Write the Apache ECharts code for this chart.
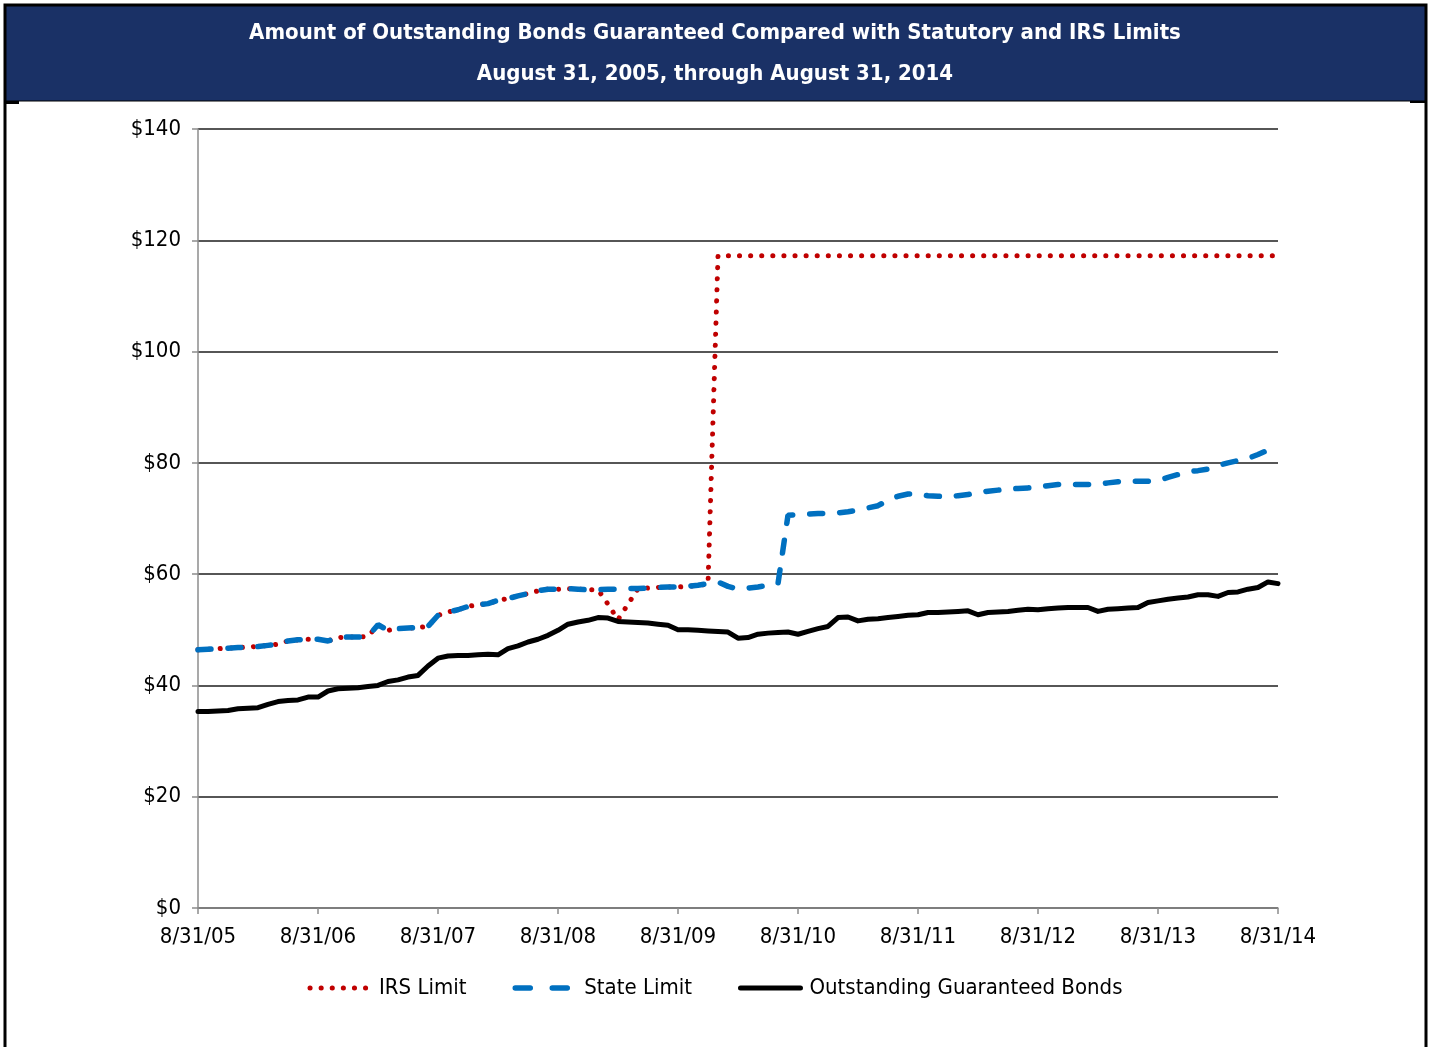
<!DOCTYPE html>
<html><head><meta charset="utf-8">
<script src="https://cdn.jsdelivr.net/npm/echarts@6/dist/echarts.min.js"></script>
<style>html,body{margin:0;padding:0;background:#fff}#c{width:1430px;height:1047px}</style>
</head><body><div id="c"></div>
<script>
const titleLines = ['Amount of Outstanding Bonds Guaranteed Compared with Statutory and IRS Limits', 'August 31, 2005, through August 31, 2014'];
const seriesNames = ['IRS Limit', 'State Limit', 'Outstanding Guaranteed Bonds'];
const tickLabels = ['8/31/05','8/31/06','8/31/07','8/31/08','8/31/09','8/31/10','8/31/11','8/31/12','8/31/13','8/31/14'];
const irsLimit = [46.4,46.5,46.6,46.7,46.8,46.9,47.0,47.2,47.4,48.0,
  48.2,48.3,48.3,48.0,48.6,48.7,48.7,48.8,50.9,49.9,
  50.2,50.3,50.4,50.6,52.6,53.2,53.6,54.2,54.5,54.7,
  55.3,55.6,56.1,56.5,57.0,57.3,57.3,57.4,57.3,57.2,
  57.2,54.6,51.8,54.6,57.4,57.5,57.6,57.7,57.7,57.8,
  58.0,58.2,117.2,117.2,117.2,117.2,117.2,117.2,117.2,117.2,
  117.2,117.2,117.2,117.2,117.2,117.2,117.2,117.2,117.2,117.2,
  117.2,117.2,117.2,117.2,117.2,117.2,117.2,117.2,117.2,117.2,
  117.2,117.2,117.2,117.2,117.2,117.2,117.2,117.2,117.2,117.2,
  117.2,117.2,117.2,117.2,117.2,117.2,117.2,117.2,117.2,117.2,
  117.2,117.2,117.2,117.2,117.2,117.2,117.2,117.2,117.2];
const stateLimit = [46.4,46.5,46.6,46.7,46.8,46.9,47.0,47.2,47.4,48.0,
  48.2,48.3,48.3,48.0,48.6,48.7,48.7,48.8,50.9,49.9,
  50.2,50.3,50.4,50.6,52.6,53.2,53.6,54.2,54.5,54.7,
  55.3,55.6,56.1,56.5,57.0,57.3,57.3,57.4,57.3,57.2,
  57.2,57.3,57.3,57.4,57.4,57.5,57.6,57.7,57.7,57.8,
  58.0,58.3,58.6,57.8,57.3,57.5,57.7,58.0,58.3,70.6,
  70.7,70.8,70.9,70.9,71.0,71.2,71.5,71.9,72.3,73.3,
  74.0,74.4,74.4,74.1,74.0,73.9,74.1,74.3,74.7,74.9,
  75.1,75.3,75.4,75.5,75.6,75.9,76.1,76.1,76.1,76.1,
  76.1,76.4,76.6,76.7,76.7,76.7,76.8,77.4,77.9,78.4,
  78.6,78.9,79.5,80.0,80.4,80.8,81.5,82.3,83.0];
const outstanding = [35.3,35.3,35.4,35.5,35.8,35.9,36.0,36.6,37.1,37.3,
  37.4,37.9,37.9,39.0,39.4,39.5,39.6,39.8,40.0,40.7,
  41.0,41.5,41.8,43.5,44.9,45.3,45.4,45.4,45.5,45.6,
  45.5,46.6,47.1,47.8,48.3,49.0,49.9,51.0,51.4,51.7,
  52.2,52.1,51.5,51.4,51.3,51.2,51.0,50.8,50.0,50.0,
  49.9,49.8,49.7,49.6,48.5,48.6,49.2,49.4,49.5,49.6,
  49.2,49.7,50.2,50.6,52.2,52.3,51.6,51.9,52.0,52.2,
  52.4,52.6,52.7,53.1,53.1,53.2,53.3,53.4,52.7,53.1,
  53.2,53.3,53.5,53.7,53.6,53.8,53.9,54.0,54.0,54.0,
  53.3,53.7,53.8,53.9,54.0,54.9,55.2,55.5,55.7,55.9,
  56.3,56.3,56.0,56.7,56.8,57.3,57.6,58.6,58.3];

// month-end category labels, 8/31/05 .. 8/31/14
const categories = [];
for (let k = 0; k < outstanding.length; k++) {
  const m = (7 + k) % 12, y = 2005 + Math.floor((7 + k) / 12);
  const d = new Date(y, m + 1, 0).getDate();
  categories.push((m + 1) + '/' + d + '/' + String(y % 100).padStart(2, '0'));
}

const FONT = "'DejaVu Sans Condensed', 'DejaVu Sans', sans-serif";
const irsStyle = {color: '#c00000', width: 5, type: [0.1, 11], cap: 'round'};
const stateStyle = {color: '#0070c0', width: 5.5, type: [13, 17], cap: 'round'};
const stateLegendStyle = {color: '#0070c0', width: 5.5, type: [15, 22], cap: 'round'};
const bondStyle = {color: '#000000', width: 5, join: 'round', cap: 'round'};

const chart = echarts.init(document.getElementById('c'), null, {renderer: 'canvas'});
chart.setOption({
  animation: false,
  backgroundColor: '#ffffff',
  title: {
    text: titleLines.join('\n'),
    left: 'center', top: 8,
    textStyle: {color: '#ffffff', fontFamily: FONT, fontWeight: 'bold', fontSize: 22, lineHeight: 41}
  },
  graphic: [
    {type: 'rect', z: 0, shape: {x: 5, y: 5, width: 1421, height: 96}, style: {fill: '#1a3166'}},
    {type: 'rect', z: 1, shape: {x: 5, y: 100.5, width: 1421, height: 1}, style: {fill: '#000'}},
    {type: 'rect', z: 1, shape: {x: 5, y: 101, width: 14, height: 3}, style: {fill: '#000'}},
    {type: 'rect', z: 1, shape: {x: 1410, y: 101, width: 15, height: 2}, style: {fill: '#000'}},
    {type: 'rect', z: 2, shape: {x: 5, y: 5, width: 1421, height: 1080}, style: {fill: 'none', stroke: '#000', lineWidth: 3}}
  ],
  grid: {left: 198, right: 152, top: 129, bottom: 139},
  legend: {
    data: [
      {name: seriesNames[0], itemStyle: {opacity: 0}, lineStyle: irsStyle},
      {name: seriesNames[1], itemStyle: {opacity: 0}, lineStyle: stateLegendStyle},
      {name: seriesNames[2], itemStyle: {opacity: 0}, lineStyle: bondStyle}
    ],
    left: 'center', top: 972,
    itemWidth: 60, itemHeight: 14, itemGap: 46,
    textStyle: {fontFamily: FONT, fontSize: 22, color: '#000', padding: [0, 0, 0, 4]}
  },
  xAxis: {
    type: 'category', data: categories, boundaryGap: false,
    axisLine: {lineStyle: {color: '#8c8c8c', width: 1.5}},
    axisTick: {interval: 11, length: 6, lineStyle: {color: '#8c8c8c', width: 1.5}},
    axisLabel: {interval: 11, margin: 18, color: '#000', fontFamily: FONT, fontSize: 22,
      formatter: (v, i) => tickLabels[i / 12] || v},
    splitLine: {show: false}
  },
  yAxis: {
    type: 'value', min: 0, max: 140, interval: 20,
    axisLine: {show: true, lineStyle: {color: '#8c8c8c', width: 1.5}},
    axisTick: {show: true, length: 6, lineStyle: {color: '#8c8c8c', width: 1.5}},
    axisLabel: {margin: 17, color: '#000', fontFamily: FONT, fontSize: 22, formatter: v => '$' + v},
    splitLine: {lineStyle: {color: '#1e1e1e', width: 1.5}}
  },
  series: [
    {name: seriesNames[0], type: 'line', data: irsLimit, symbol: 'none', z: 3,
      itemStyle: {color: '#c00000'}, lineStyle: irsStyle},
    {name: seriesNames[1], type: 'line', data: stateLimit, symbol: 'none', z: 4,
      itemStyle: {color: '#0070c0'}, lineStyle: stateStyle},
    {name: seriesNames[2], type: 'line', data: outstanding, symbol: 'none', z: 5,
      itemStyle: {color: '#000'}, lineStyle: bondStyle}
  ]
});
</script></body></html>
